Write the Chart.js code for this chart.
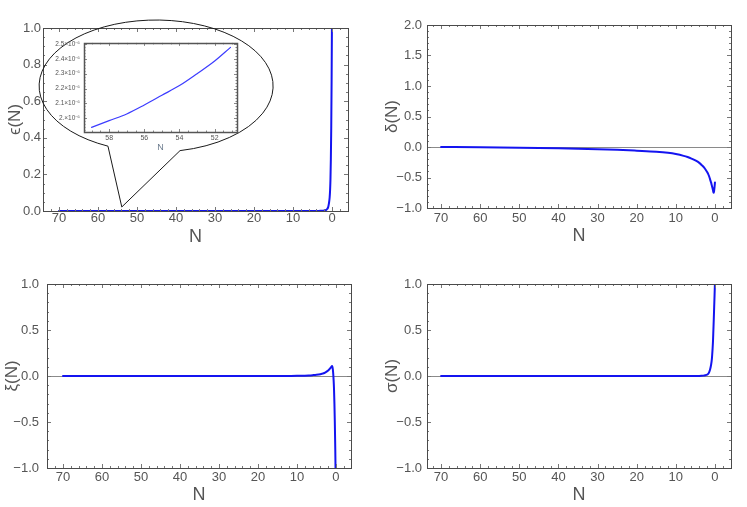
<!DOCTYPE html>
<html>
<head>
<meta charset="utf-8">
<script src="https://cdn.jsdelivr.net/npm/chart.js@4.4.1/dist/chart.umd.min.js"></script>
<style>
  html, body { margin: 0; padding: 0; background: #fff; }
  #page { position: relative; width: 747px; height: 507px; overflow: hidden; background: #fff; }
  #page canvas { position: absolute; }
</style>
</head>
<body>
<div id="page">
  <canvas id="epsChart" width="370" height="250" style="left:0;top:0"></canvas>
  <canvas id="insetChart" width="195" height="120" style="left:50px;top:35px"></canvas>
  <canvas id="deltaChart" width="377" height="250" style="left:370px;top:0"></canvas>
  <canvas id="xiChart" width="370" height="257" style="left:0;top:250px"></canvas>
  <canvas id="sigmaChart" width="377" height="257" style="left:370px;top:250px"></canvas>
</div>
<script>
// number of e-folds N (shared by the four panels)
const nValues = [70, 60, 50, 40, 30, 25, 20, 15, 12, 10, 8, 7, 6, 5, 4, 3.5, 3, 2.5, 2, 1.75,
                 1.5, 1.25, 1, 0.8, 0.6, 0.5, 0.4, 0.3, 0.2, 0.1, 0];

const epsValues = [0, 0, 0, 0, 0, 0, 0, 0, 0, 0, 0, 0, 0, 0, 0.0002, 0.0004, 0.0008, 0.0015, 0.003, 0.004,
                   0.006, 0.011, 0.02, 0.04, 0.075, 0.11, 0.17, 0.28, 0.45, 0.72, 1.1];

const deltaValues = [0, -0.006, -0.013, -0.022, -0.035, -0.045, -0.06, -0.077, -0.095, -0.115, -0.145, -0.165, -0.19, -0.22, -0.26, -0.29, -0.32, -0.36, -0.41, -0.44,
                     -0.48, -0.53, -0.58, -0.63, -0.68, -0.71, -0.74, -0.75, -0.71, -0.65, -0.58];

const xiValues = [0, 0, 0, 0, 0, 0, 0, 0, 0.001, 0.002, 0.004, 0.006, 0.009, 0.013, 0.02, 0.026, 0.033, 0.045, 0.06, 0.07,
                  0.082, 0.097, 0.108, 0.07, -0.05, -0.15, -0.3, -0.5, -0.75, -1.05, -1.5];

const sigmaValues = [0, 0, 0, 0, 0, 0, 0, 0, 0, 0, 0, 0, 0, 0, 0.001, 0.002, 0.004, 0.008, 0.015, 0.022,
                     0.04, 0.07, 0.12, 0.18, 0.3, 0.38, 0.5, 0.62, 0.75, 0.88, 1.02];

// zoomed inset of epsilon (values in units of 10^-6)
const nInset = [59.0, 58, 57, 56, 55, 54, 53, 52, 51.1];
const epsInset = [1.94, 1.985, 2.03, 2.09, 2.155, 2.22, 2.30, 2.385, 2.476];

// tick labels
const xTicksMain = [70, 60, 50, 40, 30, 20, 10, 0];
const yTicksEps = [0, 0.2, 0.4, 0.6, 0.8, 1.0];
const yTicksDelta = [-1, -0.5, 0, 0.5, 1, 1.5, 2];
const yTicksUnit = [-1, -0.5, 0, 0.5, 1];
const xTicksInset = [58, 56, 54, 52];
const yTicksInset = [2.0, 2.1, 2.2, 2.3, 2.4, 2.5];

const FONT = "'Liberation Sans', Arial, sans-serif";
const TEXT = '#555';
const BLUE = '#1414f0';

function fmtMain(v) {
    if (Math.abs(v) < 1e-9) return '0.0';
    return (v < 0 ? '\u2212' : '') + Math.abs(v).toFixed(1);
}

// frame with inward major/minor ticks on all four sides (Mathematica style)
const frameTicks = {
    id: 'frameTicks',
    afterDatasetsDraw(chart, args, opts) {
        const { ctx, chartArea: a, scales: { x, y } } = chart;
        const r = v => Math.round(v) + 0.5;
        ctx.save();
        ctx.strokeStyle = opts.color;
        ctx.lineWidth = 1;
        ctx.beginPath();
        const walk = (scale, major, minor, fn) => {
            const lo = Math.min(scale.min, scale.max), hi = Math.max(scale.min, scale.max);
            for (let k = Math.ceil(lo / minor - 1e-9); k <= Math.floor(hi / minor + 1e-9); k++) {
                const v = k * minor;
                const isMajor = Math.abs(v / major - Math.round(v / major)) < 1e-6;
                fn(r(scale.getPixelForValue(v)), isMajor ? opts.majorLen : opts.minorLen);
            }
        };
        walk(x, opts.xMajor, opts.xMinor, (px, len) => {
            ctx.moveTo(px, a.bottom); ctx.lineTo(px, a.bottom - len);
            ctx.moveTo(px, a.top); ctx.lineTo(px, a.top + len);
        });
        walk(y, opts.yMajor, opts.yMinor, (py, len) => {
            ctx.moveTo(a.left, py); ctx.lineTo(a.left + len, py);
            ctx.moveTo(a.right, py); ctx.lineTo(a.right - len, py);
        });
        ctx.stroke();
        ctx.lineWidth = opts.frameWidth;
        ctx.strokeStyle = opts.frameColor;
        ctx.strokeRect(r(a.left), r(a.top), Math.round(a.right - a.left), Math.round(a.bottom - a.top));
        ctx.restore();
    }
};

// speech bubble around the inset, anchored on the main axes
const callout = {
    id: 'callout',
    afterDraw(chart) {
        const { ctx, scales: { x, y } } = chart;
        const cx = x.getPixelForValue(45.1), cy = y.getPixelForValue(0.683);
        const tipX = x.getPixelForValue(53.9), tipY = y.getPixelForValue(0.022);
        ctx.save();
        ctx.strokeStyle = '#1a1a1a';
        ctx.lineWidth = 1;
        ctx.beginPath();
        ctx.ellipse(cx, cy, 117, 66, 0, 114.3 * Math.PI / 180, 78.2 * Math.PI / 180, false);
        ctx.lineTo(tipX, tipY);
        ctx.closePath();
        ctx.stroke();
        ctx.restore();
    }
};

function makePanel(id, cfg) {
    const fs = cfg.fontSize || 13;
    return new Chart(document.getElementById(id), {
        type: 'scatter',
        data: {
            datasets: [{
                data: cfg.xs.map((n, i) => ({ x: n, y: cfg.ys[i] })),
                showLine: true,
                borderColor: cfg.lineColor || BLUE,
                borderWidth: cfg.lineWidth || 2,
                borderJoinStyle: 'round',
                borderCapStyle: 'round',
                cubicInterpolationMode: 'monotone',
                pointRadius: 0,
                clip: 0
            }]
        },
        options: {
            animation: false,
            responsive: false,
            devicePixelRatio: 1,
            events: [],
            layout: { padding: { left: 0, top: cfg.top, right: cfg.right, bottom: 0 } },
            plugins: {
                legend: { display: false },
                tooltip: { enabled: false },
                frameTicks: cfg.ticks
            },
            scales: {
                x: {
                    type: 'linear',
                    reverse: true,
                    min: cfg.xMin,
                    max: cfg.xMax,
                    afterBuildTicks: s => { s.ticks = cfg.xTicks.map(v => ({ value: v })); },
                    afterFit: s => { s.height = cfg.xHeight; },
                    grid: { display: false, drawTicks: false },
                    border: { display: false },
                    ticks: {
                        padding: cfg.xPad,
                        color: TEXT,
                        autoSkip: false,
                        maxRotation: 0,
                        font: { family: FONT, size: fs },
                        callback: cfg.xFmt || (v => String(v))
                    },
                    title: {
                        display: true,
                        text: 'N',
                        color: cfg.xTitleColor || TEXT,
                        font: { family: FONT, size: cfg.xTitleSize || 18 },
                        padding: { top: 0, bottom: cfg.xTitlePad }
                    }
                },
                y: {
                    type: 'linear',
                    min: cfg.yMin,
                    max: cfg.yMax,
                    afterBuildTicks: s => { s.ticks = cfg.yTicks.map(v => ({ value: v })); },
                    afterFit: s => { s.width = cfg.yWidth; },
                    grid: {
                        display: true,
                        drawTicks: false,
                        color: c => (cfg.zeroLine && c.tick && c.tick.value === 0) ? '#8a8a8a' : 'rgba(0,0,0,0)'
                    },
                    border: { display: false },
                    ticks: {
                        padding: cfg.yPad,
                        color: TEXT,
                        font: { family: FONT, size: cfg.yFontSize || fs },
                        callback: cfg.yFmt || fmtMain
                    },
                    title: {
                        display: !!cfg.yTitle,
                        text: cfg.yTitle,
                        color: TEXT,
                        font: { family: FONT, size: 17 },
                        padding: { top: cfg.yTitlePad, bottom: 0 }
                    }
                }
            }
        },
        plugins: [frameTicks].concat(cfg.extra || [])
    });
}

const mainTicks = { color: '#777', frameColor: '#4a4a4a', frameWidth: 1, majorLen: 4, minorLen: 2, xMajor: 10, xMinor: 2 };

makePanel('epsChart', {
    xs: nValues, ys: epsValues, xMin: -4.1, xMax: 74.1, yMin: 0, yMax: 1,
    xTicks: xTicksMain, yTicks: yTicksEps,
    top: 28, right: 22, xHeight: 39, yWidth: 43,
    xPad: 0, yPad: 2, xTitlePad: 2, yTitle: '\u03F5(N)', yTitlePad: 5,
    zeroLine: false,
    ticks: Object.assign({}, mainTicks, { yMajor: 0.2, yMinor: 0.05 }),
    extra: [callout]
});

makePanel('insetChart', {
    xs: nInset, ys: epsInset, xMin: 50.73, xMax: 59.43, yMin: 1.909, yMax: 2.506,
    xTicks: xTicksInset, yTicks: yTicksInset,
    top: 5, right: 8, xHeight: 23, yWidth: 34,
    fontSize: 7, yFontSize: 6.5, xPad: 2, yPad: 4,
    xTitleSize: 9, xTitlePad: 2, xTitleColor: '#6a7a8c',
    yTitle: '', yTitlePad: 0, zeroLine: false,
    lineColor: '#3c3cff', lineWidth: 1.2,
    yFmt: v => (Math.abs(v - 2) < 1e-9 ? '2.' : v.toFixed(1)) + '\u00D710\u207B\u2076',
    ticks: { color: '#888', frameColor: '#555', frameWidth: 1.5, majorLen: 3, minorLen: 1.5, xMajor: 2, xMinor: 0.5, yMajor: 0.1, yMinor: 0.02 }
});

makePanel('deltaChart', {
    xs: nValues, ys: deltaValues, xMin: -4.1, xMax: 73.6, yMin: -1, yMax: 2,
    xTicks: xTicksMain, yTicks: yTicksDelta,
    top: 25, right: 16, xHeight: 42, yWidth: 57,
    xPad: 2.5, yPad: 5, xTitlePad: 3, yTitle: '\u03B4(N)', yTitlePad: 12,
    zeroLine: true,
    ticks: Object.assign({}, mainTicks, { yMajor: 0.5, yMinor: 0.1 })
});

makePanel('xiChart', {
    xs: nValues, ys: xiValues, xMin: -3.85, xMax: 74.1, yMin: -1, yMax: 1,
    xTicks: xTicksMain, yTicks: yTicksUnit,
    top: 34, right: 19, xHeight: 39, yWidth: 47,
    xPad: 2, yPad: 8, xTitlePad: 1, yTitle: '\u03BE(N)', yTitlePad: 2,
    zeroLine: true,
    ticks: Object.assign({}, mainTicks, { yMajor: 0.5, yMinor: 0.1 })
});

makePanel('sigmaChart', {
    xs: nValues, ys: sigmaValues, xMin: -4.1, xMax: 73.6, yMin: -1, yMax: 1,
    xTicks: xTicksMain, yTicks: yTicksUnit,
    top: 34, right: 16, xHeight: 39, yWidth: 57,
    xPad: 2, yPad: 5, xTitlePad: 1, yTitle: '\u03C3(N)', yTitlePad: 12,
    zeroLine: true,
    ticks: Object.assign({}, mainTicks, { yMajor: 0.5, yMinor: 0.1 })
});
</script>
</body>
</html>
